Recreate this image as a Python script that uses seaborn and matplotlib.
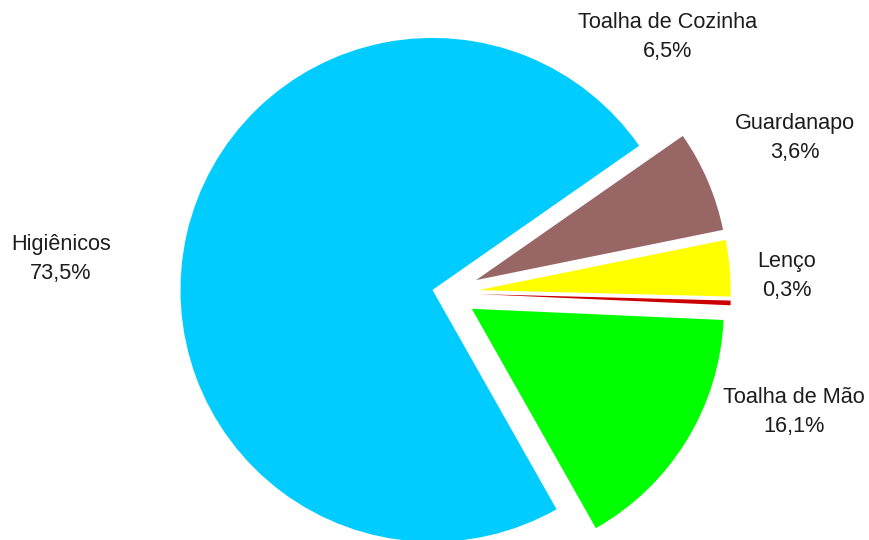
import matplotlib
matplotlib.use("Agg")
import matplotlib.pyplot as plt
import seaborn as sns

# Data (drawing order, counter-clockwise from the lower right)
categories = ["Toalha de Mão", "Lenço", "Guardanapo", "Toalha de Cozinha", "Higiênicos"]
values = [16.1, 0.3, 3.6, 6.5, 73.5]
value_labels = ["16,1%", "0,3%", "3,6%", "6,5%", "73,5%"]
colors = ["#00FF00", "#CC0000", "#FFFF00", "#996666", "#00CCFF"]

sns.set_style("white")
plt.rcParams["font.family"] = ["Liberation Sans", "DejaVu Sans"]

W, H = 869, 540
fig = plt.figure(figsize=(W / 100, H / 100), dpi=100)
ax = fig.add_axes([0, 0, 1, 1])

explode = [0.12, 0.13, 0.13, 0.13, 0.055]
ax.pie(values, colors=colors, explode=explode, startangle=-60.5,
       counterclock=True, radius=1.0,
       wedgeprops=dict(linewidth=0, antialiased=True))

# pixel -> data mapping: centre at (446, 293) px, radius 252 px
cx, cy, r = 446.0, 293.0, 252.0
ax.set_xlim(-cx / r, (W - cx) / r)
ax.set_ylim(-(H - cy) / r, cy / r)
ax.set_aspect("auto")
ax.axis("off")

# label positions (pixel centres)
label_pos = {
    "Higiênicos": (61, 259),
    "Toalha de Cozinha": (668, 37),
    "Guardanapo": (795, 138),
    "Lenço": (787, 276),
    "Toalha de Mão": (794, 412),
}
for cat, lab in zip(categories, value_labels):
    px, py = label_pos[cat]
    fig.text(px / W, 1 - py / H, f"{cat}\n{lab}", ha="center", va="center",
             fontsize=15.6, color="#1c1c1c", linespacing=1.45)

fig.savefig("out.png", dpi=100, facecolor="white")
